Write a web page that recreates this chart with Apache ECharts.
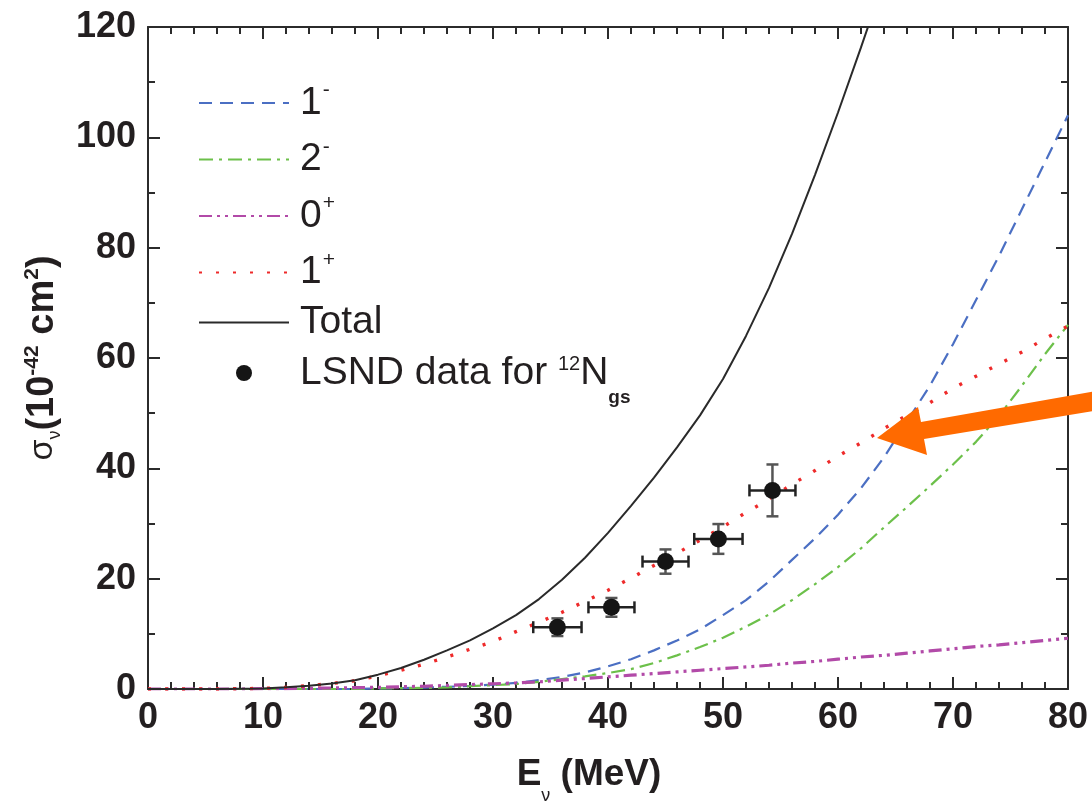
<!DOCTYPE html>
<html>
<head>
<meta charset="utf-8">
<script src="https://cdn.jsdelivr.net/npm/echarts@6/dist/echarts.min.js"></script>
<style>
html,body{margin:0;padding:0;background:#fff;}
#chart{width:1092px;height:802px;}
</style>
</head>
<body>
<div id="chart"></div>
<script>
// ---- data ----
const energies = [0,2,4,6,8,10,12,14,16,18,20,22,24,26,28,30,32,34,36,38,40,42,44,46,48,50,52,54,56,58,60,62,64,66,68,70,72,74,76,78,80];
const sigma1minus = [0,0,0,0,0,0,0,0,0,0,0.1,0.15,0.25,0.4,0.55,0.8,1.1,1.6,2.2,3.0,4.1,5.4,7.0,8.8,10.8,13.4,16.1,19.5,23.4,27.3,31.6,36.4,42.0,48.5,55.0,62.5,70.5,78.5,87.0,95.5,104.0];
const sigma2minus = [0,0,0,0,0,0,0,0,0,0,0.1,0.15,0.2,0.3,0.5,0.7,0.9,1.3,1.8,2.3,2.9,3.6,4.7,6.1,7.6,9.3,11.3,13.5,16.1,19.0,22.1,25.5,29.3,33.0,36.8,40.7,44.8,49.5,55.0,60.7,66.0];
const sigma0plus = [0,0,0,0,0,0.05,0.08,0.12,0.18,0.25,0.3,0.4,0.5,0.65,0.8,0.95,1.1,1.3,1.6,1.9,2.2,2.5,2.8,3.1,3.4,3.7,4.0,4.3,4.7,5.0,5.4,5.8,6.1,6.5,6.9,7.3,7.7,8.0,8.4,8.8,9.2];
const sigma1plus = [0,0,0,0,0.05,0.1,0.3,0.6,1.0,1.5,2.4,3.4,4.5,5.8,7.2,8.6,10.4,12.1,13.9,15.9,17.9,20.1,22.4,24.6,27.0,29.4,32.0,34.4,37.1,39.6,42.2,44.6,47.2,49.6,51.9,54.5,56.7,58.9,61.1,63.5,65.8];
const sigmaTotal = [0,0,0,0,0.05,0.1,0.3,0.6,1.0,1.6,2.6,3.8,5.3,7.0,8.8,11.0,13.4,16.3,19.8,23.8,28.3,33.2,38.3,43.8,49.6,56.2,64.0,72.7,82.5,93.2,104.5,116.3,128.5,null,null,null,null,null,null,null,null];

const lsndE = [35.6, 40.3, 45.0, 49.6, 54.3];
const lsndSigma = [11.2, 14.8, 23.1, 27.2, 36.0];
const lsndEErr = [2.1, 2.0, 2.0, 2.1, 2.0];
const lsndSigmaErr = [1.6, 1.7, 2.2, 2.7, 4.7];

const xTicks = {min: 0, max: 80, step: 10};
const yTicks = {min: 0, max: 120, step: 20};

// ---- chart ----
const FONT = 'Liberation Sans, Arial, Helvetica, sans-serif';
const AX = '#2b2b2b';
const TXT = '#231f20';
const chart = echarts.init(document.getElementById('chart'), null, {renderer: 'canvas'});

function pairs(ys) { return energies.map((e, i) => [e, ys[i]]); }

const legendRich = {
  ns: {fontSize: 39, fontFamily: FONT, color: TXT, lineHeight: 52, padding: [0, 0, 0, 6]},
  nt: {fontSize: 39, fontFamily: FONT, color: TXT, lineHeight: 25, padding: [0, 0, 0, 6]},
  nl: {fontSize: 39, fontFamily: FONT, color: TXT, lineHeight: 40, padding: [0, 0, 0, 6]},
  m: {fontSize: 39, fontFamily: FONT, color: TXT, lineHeight: 40},
  sup: {fontSize: 21, fontFamily: FONT, color: TXT, verticalAlign: 'top', lineHeight: 20, padding: [3, 0, 0, 1]},
  sup2: {fontSize: 20, fontFamily: FONT, color: TXT, verticalAlign: 'top', lineHeight: 20, padding: [1, 0, 0, 0]},
  sub: {fontSize: 19, fontFamily: FONT, fontWeight: 'bold', color: TXT, verticalAlign: 'bottom', padding: [0, 0, -14, 0]}
};
const legendText = {
  '1-': '{ns|1}{sup|-}',
  '2-': '{ns|2}{sup|-}',
  '0+': '{ns|0}{sup|+}',
  '1+': '{ns|1}{sup|+}',
  'Total': '{nt|Total}',
  'LSND': '{nl|LSND data for }{sup2|12}{m|N}{sub|gs}'
};

function axisCommon(extra) {
  return Object.assign({
    type: 'value',
    axisLine: {show: true, onZero: false, lineStyle: {color: AX, width: 2}},
    axisTick: {show: true, inside: true, length: 12, lineStyle: {color: AX, width: 2}},
    splitLine: {show: false},
    minorSplitLine: {show: false}
  }, extra);
}

const noSymbol = {color: 'rgba(0,0,0,0)', borderWidth: 0};

const option = {
  backgroundColor: '#fff',
  animation: false,
  grid: {left: 148, right: 24, top: 27, bottom: 113, outerBoundsMode: 'none'},
  legend: {
    orient: 'vertical',
    left: 198, top: 77,
    padding: 0,
    itemGap: 11,
    itemWidth: 90, itemHeight: 16,
    align: 'left',
    selectedMode: false,
    data: ['1-', '2-', '0+', '1+', 'Total', 'LSND'],
    formatter: name => legendText[name],
    textStyle: {fontSize: 39, fontFamily: FONT, color: TXT, rich: legendRich}
  },
  xAxis: [
    axisCommon({
      position: 'bottom', min: xTicks.min, max: xTicks.max, interval: xTicks.step,
      minorTick: {show: true, splitNumber: 5, length: 7, lineStyle: {color: AX, width: 2}},
      axisLabel: {fontSize: 36, fontWeight: 'bold', fontFamily: FONT, color: TXT, margin: 11},
      name: '{b|E}{sub|ν}{b| (MeV)}',
      nameLocation: 'middle', nameGap: 66,
      nameTextStyle: {
        padding: [0, 38, 0, 0],
        rich: {
          b: {fontSize: 37, fontWeight: 'bold', fontFamily: FONT, color: TXT, lineHeight: 40},
          sub: {fontSize: 18, fontFamily: FONT, color: TXT, verticalAlign: 'bottom', padding: [0, 0, -10, 0]}
        }
      }
    }),
    axisCommon({
      position: 'top', min: xTicks.min, max: xTicks.max, interval: xTicks.step,
      minorTick: {show: true, splitNumber: 5, length: 7, lineStyle: {color: AX, width: 2}},
      axisLabel: {show: false}
    })
  ],
  yAxis: [
    axisCommon({
      position: 'left', min: yTicks.min, max: yTicks.max, interval: yTicks.step,
      minorTick: {show: true, splitNumber: 2, length: 7, lineStyle: {color: AX, width: 2}},
      axisLabel: {fontSize: 36, fontWeight: 'bold', fontFamily: FONT, color: TXT, margin: 12},
      name: '{s|σ}{sub|ν}{b|(10}{sup|-42}{b| cm}{sup|2}{b|)}',
      nameLocation: 'middle', nameGap: 84, nameRotate: 90,
      nameTextStyle: {
        rich: {
          s: {fontSize: 34, fontFamily: FONT, color: TXT, lineHeight: 42},
          b: {fontSize: 38, fontWeight: 'bold', fontFamily: FONT, color: TXT, lineHeight: 42},
          sup: {fontSize: 21, fontWeight: 'bold', fontFamily: FONT, color: TXT, verticalAlign: 'top', lineHeight: 18},
          sub: {fontSize: 18, fontFamily: FONT, color: TXT, verticalAlign: 'bottom', lineHeight: 12}
        }
      }
    }),
    axisCommon({
      position: 'right', min: yTicks.min, max: yTicks.max, interval: yTicks.step,
      minorTick: {show: true, splitNumber: 2, length: 7, lineStyle: {color: AX, width: 2}},
      axisLabel: {show: false}
    })
  ],
  series: [
    {name: '1-', type: 'line', data: pairs(sigma1minus), symbol: 'none', showSymbol: false,
     lineStyle: {color: '#4b6fc3', width: 2.2, type: [13, 8]}, itemStyle: noSymbol, z: 3},
    {name: '2-', type: 'line', data: pairs(sigma2minus), symbol: 'none', showSymbol: false,
     lineStyle: {color: '#6cc04a', width: 2.2, type: [14, 6, 3, 6]}, itemStyle: noSymbol, z: 3},
    {name: '0+', type: 'line', data: pairs(sigma0plus), symbol: 'none', showSymbol: false,
     lineStyle: {color: '#b24aa8', width: 3.2, type: [13, 5, 3, 5, 3, 5]}, itemStyle: noSymbol, z: 3},
    {name: '1+', type: 'line', data: pairs(sigma1plus), symbol: 'none', showSymbol: false,
     lineStyle: {color: '#ee2a2a', width: 3.4, type: [3, 14]}, itemStyle: noSymbol, z: 3},
    {name: 'Total', type: 'line', data: pairs(sigmaTotal), symbol: 'none', showSymbol: false, connectNulls: false,
     lineStyle: {color: '#2a2a2a', width: 2}, itemStyle: noSymbol, z: 3},
    {name: 'LSND-err', type: 'custom', z: 4,
     data: lsndE.map((e, i) => [e, lsndSigma[i], lsndEErr[i], lsndSigmaErr[i]]),
     encode: {x: 0, y: 1},
     renderItem: function (params, api) {
       const x = api.value(0), y = api.value(1), xe = api.value(2), ye = api.value(3);
       const l = api.coord([x - xe, y]), r = api.coord([x + xe, y]);
       const t = api.coord([x, y + ye]), b = api.coord([x, y - ye]);
       const cap = 6;
       const vs = {stroke: '#555', lineWidth: 2.5};
       const hs = {stroke: '#222', lineWidth: 2.5};
       return {type: 'group', children: [
         {type: 'line', shape: {x1: t[0], y1: t[1], x2: b[0], y2: b[1]}, style: vs},
         {type: 'line', shape: {x1: t[0] - cap, y1: t[1], x2: t[0] + cap, y2: t[1]}, style: vs},
         {type: 'line', shape: {x1: b[0] - cap, y1: b[1], x2: b[0] + cap, y2: b[1]}, style: vs},
         {type: 'line', shape: {x1: l[0], y1: l[1], x2: r[0], y2: r[1]}, style: hs},
         {type: 'line', shape: {x1: l[0], y1: l[1] - cap, x2: l[0], y2: l[1] + cap}, style: hs},
         {type: 'line', shape: {x1: r[0], y1: r[1] - cap, x2: r[0], y2: r[1] + cap}, style: hs}
       ]};
     }
    },
    {name: 'LSND', type: 'scatter', data: lsndE.map((e, i) => [e, lsndSigma[i]]),
     symbol: 'circle', symbolSize: 17, itemStyle: {color: '#151515', opacity: 1}, z: 5}
  ],
  graphic: [
    {type: 'polygon', z: 100,
     shape: {points: [[877, 438], [918, 407], [921, 422], [1096, 391], [1099, 410], [924, 439], [927, 455]]},
     style: {fill: '#ff6a00'}}
  ]
};
chart.setOption(option);
</script>
</body>
</html>
